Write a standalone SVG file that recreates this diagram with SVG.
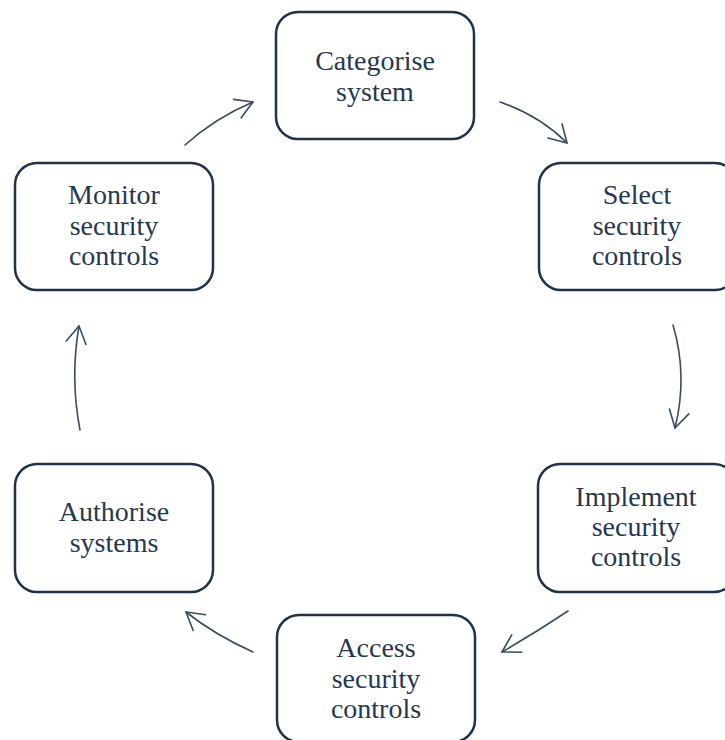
<svg xmlns="http://www.w3.org/2000/svg" width="725" height="740" viewBox="0 0 725 740">
<style>
.box{fill:#ffffff;stroke:#1f324a;stroke-width:2.5}
.lbl{font-family:"Liberation Serif","Times New Roman",serif;font-size:28px;fill:#263850;text-anchor:middle}
.arr{fill:none;stroke:#3a4c63;stroke-width:1.6;stroke-linecap:round;marker-end:url(#head)}
</style>
<defs>
<marker id="head" markerUnits="userSpaceOnUse" markerWidth="40" markerHeight="40" viewBox="-20 -20 40 40" refX="0" refY="0" orient="auto">
<path d="M-17,-10 L0,0 L-17,10" fill="none" stroke="#3a4c63" stroke-width="1.6" stroke-linecap="round" stroke-linejoin="round"/>
</marker>
</defs>
<rect width="725" height="740" fill="#ffffff"/>
<g id="connectors">
<path class="arr" d="M500,102 Q540,116 567,143"/>
<path class="arr" d="M673,325 Q688,376 675,428"/>
<path class="arr" d="M568,611 Q535,633 502,652"/>
<path class="arr" d="M253,652 Q215,635 186,612"/>
<path class="arr" d="M80,430 Q70,378 79,326"/>
<path class="arr" d="M185,145 Q215,118 253,102"/>
</g>
<g id="categorise">
<rect class="box" x="276" y="12" width="198" height="127" rx="22"/>
<text class="lbl" x="375" y="70">Categorise</text>
<text class="lbl" x="375" y="101">system</text>
</g>
<g id="select">
<rect class="box" x="539" y="163" width="198" height="127" rx="22"/>
<text class="lbl" x="637" y="204">Select</text>
<text class="lbl" x="637" y="235">security</text>
<text class="lbl" x="637" y="265">controls</text>
</g>
<g id="implement">
<rect class="box" x="538" y="464" width="198" height="128" rx="22"/>
<text class="lbl" x="636" y="506">Implement</text>
<text class="lbl" x="636" y="536">security</text>
<text class="lbl" x="636" y="566">controls</text>
</g>
<g id="access">
<rect class="box" x="277" y="615" width="198" height="127" rx="22"/>
<text class="lbl" x="376" y="657">Access</text>
<text class="lbl" x="376" y="688">security</text>
<text class="lbl" x="376" y="718">controls</text>
</g>
<g id="authorise">
<rect class="box" x="15" y="464" width="198" height="128" rx="22"/>
<text class="lbl" x="114" y="521">Authorise</text>
<text class="lbl" x="114" y="552">systems</text>
</g>
<g id="monitor">
<rect class="box" x="15" y="163" width="198" height="127" rx="22"/>
<text class="lbl" x="114" y="204">Monitor</text>
<text class="lbl" x="114" y="235">security</text>
<text class="lbl" x="114" y="265">controls</text>
</g>
</svg>
